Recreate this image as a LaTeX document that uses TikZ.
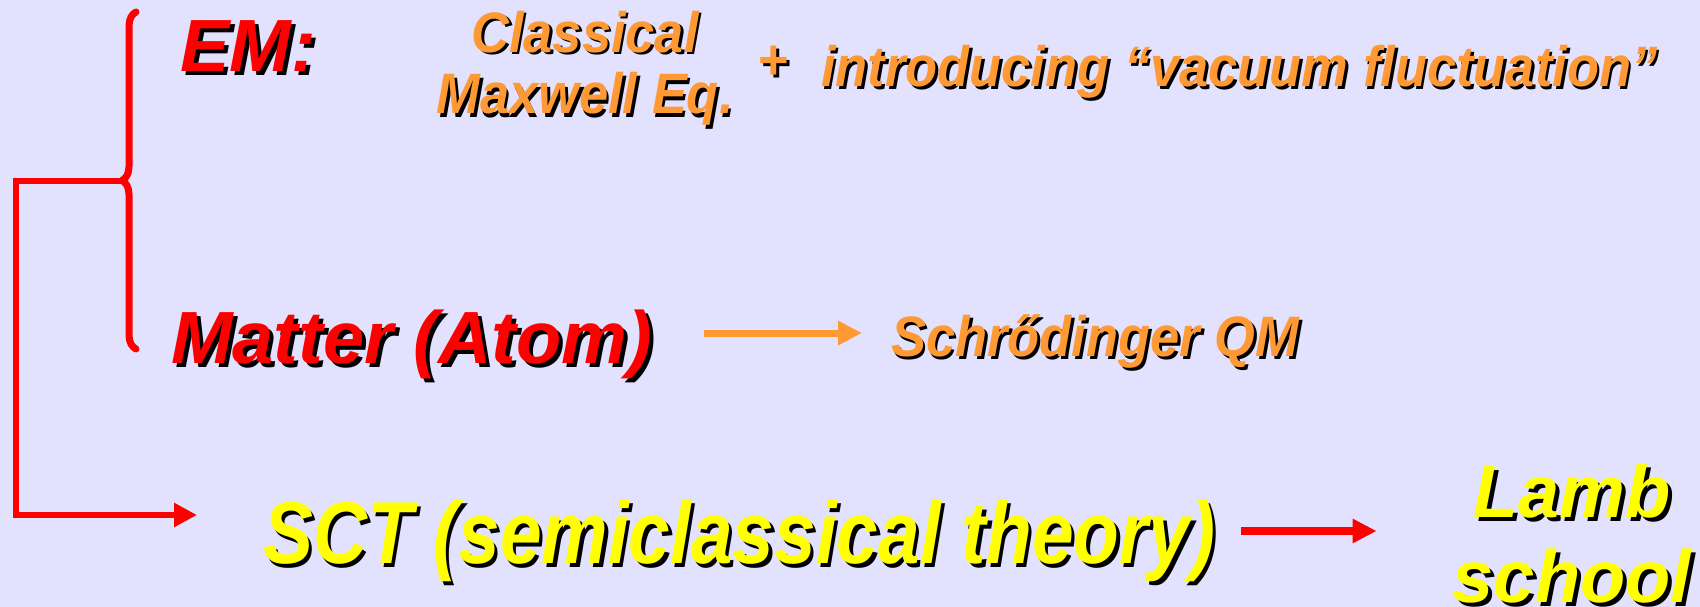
\documentclass[tikz,border=0pt]{standalone}
\usepackage{fontspec}
\setmainfont{Liberation Sans}
\usetikzlibrary{arrows.meta,decorations.pathreplacing}

\definecolor{slidebg}{RGB}{226,226,255}
\definecolor{emred}{RGB}{255,0,0}
\definecolor{qmorange}{RGB}{255,153,51}
\definecolor{sctyellow}{RGB}{255,255,0}

% coloured text with a black drop shadow
\newcommand{\shadowed}[3]{\makebox[0pt][l]{\kern#2\raisebox{-#2}{\color{black}#3}}{\color{#1}#3}}
\newcommand{\orangetext}[1]{\scalebox{0.92}[1]{\shadowed{qmorange}{3pt}{#1}}}

\begin{document}
\begin{tikzpicture}[x=1pt,y=-1pt,
    every node/.style={inner sep=0pt},
    bigtext/.style={anchor=base west, font={\fontsize{74}{85}\selectfont\bfseries\itshape}},
    midtext/.style={font={\fontsize{57}{62}\selectfont\bfseries\itshape}},
    scttext/.style={anchor=base west, font={\fontsize{88}{95}\selectfont\bfseries\itshape}},
    bracebar/.style={draw=emred, line width=7pt, line cap=round,
        decorate, decoration={brace, amplitude=14pt}},
    bracketarr/.style={draw=emred, line width=6.5pt, -{Triangle[length=23pt,width=23pt]}},
    orangearr/.style={draw=qmorange, line width=7pt, -{Triangle[length=24pt,width=23pt]}},
    redarr/.style={draw=emred, line width=8pt, -{Triangle[length=24pt,width=23pt]}},
  ]
  \fill[slidebg] (0,0) rectangle (1700,607);
  \useasboundingbox (0,0) rectangle (1700,607);

  % texts
  \node[bigtext] (em) at (180,72) {\shadowed{emred}{4pt}{EM:}};
  \node[midtext, align=center, anchor=base] (maxwell) at (585,114)
    {\orangetext{Classical}\\\orangetext{Maxwell Eq.}};
  \node[midtext, anchor=base] (plus) at (773,80) {\orangetext{+}};
  \node[midtext, anchor=base west] (vacuum) at (821,87)
    {\orangetext{introducing “vacuum fluctuation”}};
  \node[bigtext] (matter) at (171,363) {\shadowed{emred}{4pt}{Matter (Atom)}};
  \node[midtext, anchor=base west] (qm) at (891,356) {\orangetext{Schrődinger QM}};
  \node[scttext] (sct) at (263,563)
    {\scalebox{0.85}[1]{\shadowed{sctyellow}{4pt}{SCT (semiclassical theory)}}};
  \node[bigtext, anchor=base, align=center] (lamb) at (1572,602)
    {\shadowed{sctyellow}{4pt}{Lamb}\\\shadowed{sctyellow}{4pt}{school}};

  % brace joining EM and matter
  \coordinate (braceBot) at (136,349);
  \coordinate (braceTop) at (136,12);
  \coordinate (braceTip) at (122,181);
  \coordinate (sctIn) at (197,515);
  \draw[bracebar] (braceBot) -- (braceTop);
  \draw[bracketarr] (braceTip) -- ++(-106,0) |- (sctIn);

  % arrows
  \draw[orangearr] ([xshift=52pt,yshift=30pt]matter.base east)
    -- ([xshift=-29pt,yshift=23pt]qm.base west);
  \coordinate (sctOut) at ([xshift=26pt,yshift=32pt]sct.base east);
  \draw[redarr, shorten >=76pt] (sctOut) -- (sctOut -| lamb.west);
\end{tikzpicture}
\end{document}
